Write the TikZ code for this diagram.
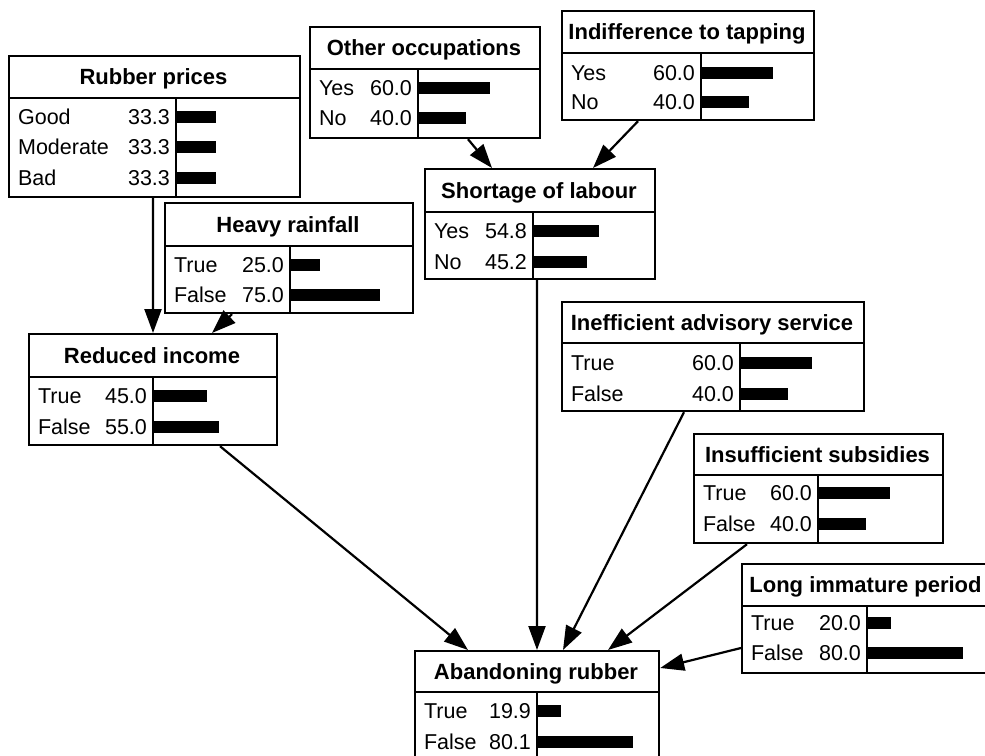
\documentclass[tikz,border=0pt]{standalone}
\usepackage{fontspec}
\setmainfont{Liberation Sans}
\usetikzlibrary{arrows.meta}

\begin{document}
\begin{tikzpicture}[x=1bp, y=-1bp, line width=2.2bp,
    dep/.style={-{Triangle[length=24bp,width=17bp]}},
    cpt/.style={draw, anchor=north west, inner sep=0pt},
    ttl/.style={inner sep=0pt, text height=16bp, text depth=0pt,
        font=\fontsize{22bp}{24bp}\selectfont\bfseries},
    lbl/.style={anchor=west, inner sep=0pt, text height=15bp, text depth=0pt,
        font=\fontsize{21.5bp}{23bp}\selectfont},
    val/.style={lbl, anchor=east}]
    \useasboundingbox (0,0) rectangle (985,756);
    \clip (0,0) rectangle (985,756);

    % Rubber prices
    \node[cpt, minimum width=291bp, minimum height=141bp] (rubber) at (8,55) {};
    \draw (8,98) -- (299,98) (176,98) -- (176,196);
    \node[ttl] at (153.5,76.5) {Rubber prices};
    \foreach \s/\v/\y in {Good/33.3/117, Moderate/33.3/147, Bad/33.3/178} {
        \node[lbl] at (17,\y) {\s};
        \node[val] at (171,\y) {\v};
        \fill (176,\y-6) rectangle +(1.2*\v,12);
    }

    % Other occupations
    \node[cpt, minimum width=230bp, minimum height=111bp] (occup) at (309,26) {};
    \draw (309,69) -- (539,69) (418,69) -- (418,137);
    \node[ttl] at (424,47.5) {Other occupations};
    \foreach \s/\v/\y in {Yes/60.0/88, No/40.0/118} {
        \node[lbl] at (318,\y) {\s};
        \node[val] at (413,\y) {\v};
        \fill (418,\y-6) rectangle +(1.2*\v,12);
    }

    % Indifference to tapping
    \node[cpt, minimum width=252bp, minimum height=109bp] (indiff) at (561,10) {};
    \draw (561,53) -- (813,53) (701,53) -- (701,119);
    \node[ttl] at (687,31.5) {Indifference to tapping};
    \foreach \s/\v/\y in {Yes/60.0/73, No/40.0/102} {
        \node[lbl] at (570,\y) {\s};
        \node[val] at (696,\y) {\v};
        \fill (701,\y-6) rectangle +(1.2*\v,12);
    }

    % Heavy rainfall
    \node[cpt, minimum width=248bp, minimum height=110bp] (rain) at (164,202) {};
    \draw (164,246) -- (412,246) (290,246) -- (290,312);
    \node[ttl] at (288,224) {Heavy rainfall};
    \foreach \s/\v/\y in {True/25.0/265, False/75.0/295} {
        \node[lbl] at (173,\y) {\s};
        \node[val] at (285,\y) {\v};
        \fill (290,\y-6) rectangle +(1.2*\v,12);
    }

    % Shortage of labour
    \node[cpt, minimum width=230bp, minimum height=110bp] (shortage) at (424,168) {};
    \draw (424,212) -- (654,212) (533,212) -- (533,278);
    \node[ttl] at (539,190) {Shortage of labour};
    \foreach \s/\v/\y in {Yes/54.8/231, No/45.2/262} {
        \node[lbl] at (433,\y) {\s};
        \node[val] at (528,\y) {\v};
        \fill (533,\y-6) rectangle +(1.2*\v,12);
    }

    % Reduced income
    \node[cpt, minimum width=248bp, minimum height=111bp] (income) at (28,333) {};
    \draw (28,377) -- (276,377) (153,377) -- (153,444);
    \node[ttl] at (152,355) {Reduced income};
    \foreach \s/\v/\y in {True/45.0/396, False/55.0/427} {
        \node[lbl] at (37,\y) {\s};
        \node[val] at (148,\y) {\v};
        \fill (153,\y-6) rectangle +(1.2*\v,12);
    }

    % Inefficient advisory service
    \node[cpt, minimum width=302bp, minimum height=109bp] (advisory) at (561,301) {};
    \draw (561,343) -- (863,343) (740,343) -- (740,410);
    \node[ttl] at (712,322) {Inefficient advisory service};
    \foreach \s/\v/\y in {True/60.0/363, False/40.0/394} {
        \node[lbl] at (570,\y) {\s};
        \node[val] at (735,\y) {\v};
        \fill (740,\y-6) rectangle +(1.2*\v,12);
    }

    % Insufficient subsidies
    \node[cpt, minimum width=249bp, minimum height=109bp] (subsidies) at (693,433) {};
    \draw (693,475) -- (942,475) (818,475) -- (818,542);
    \node[ttl] at (817.5,454) {Insufficient subsidies};
    \foreach \s/\v/\y in {True/60.0/493, False/40.0/524} {
        \node[lbl] at (702,\y) {\s};
        \node[val] at (813,\y) {\v};
        \fill (818,\y-6) rectangle +(1.2*\v,12);
    }

    % Long immature period (cut off at the right)
    \node[cpt, minimum width=249bp, minimum height=109bp] (immature) at (741,563) {};
    \draw (741,606) -- (990,606) (867,606) -- (867,672);
    \node[ttl] at (865.5,584.5) {Long immature period};
    \foreach \s/\v/\y in {True/20.0/623, False/80.0/653} {
        \node[lbl] at (750,\y) {\s};
        \node[val] at (862,\y) {\v};
        \fill (867,\y-6) rectangle +(1.2*\v,12);
    }

    % Abandoning rubber (cut off at the bottom)
    \node[cpt, minimum width=244bp, minimum height=120bp] (abandon) at (414,650) {};
    \draw (414,692) -- (658,692) (537,692) -- (537,770);
    \node[ttl] at (536,671) {Abandoning rubber};
    \foreach \s/\v/\y in {True/19.9/711, False/80.1/742} {
        \node[lbl] at (423,\y) {\s};
        \node[val] at (532,\y) {\v};
        \fill (537,\y-6) rectangle +(1.2*\v,12);
    }

    % the arrows
    \draw[dep] ([xshift=145bp]rubber.south west) -- ([xshift=125bp]income.north west);
    \draw[dep] ([xshift=68bp]rain.south west) -- ([xshift=184bp]income.north west);
    \draw[dep] ([xshift=159bp]occup.south west) -- ([xshift=68bp]shortage.north west);
    \draw[dep] ([xshift=77bp]indiff.south west) -- ([xshift=169bp]shortage.north west);
    \draw[dep] ([xshift=192bp]income.south west) -- ([xshift=54bp]abandon.north west);
    \draw[dep] ([xshift=113bp]shortage.south west) -- ([xshift=123bp]abandon.north west);
    \draw[dep] ([xshift=123bp]advisory.south west) -- ([xshift=149bp]abandon.north west);
    \draw[dep] ([xshift=54bp]subsidies.south west) -- ([xshift=194bp]abandon.north west);
    \draw[dep] ([yshift=-85bp]immature.north west) -- ([yshift=-18bp]abandon.north east);
\end{tikzpicture}
\end{document}
